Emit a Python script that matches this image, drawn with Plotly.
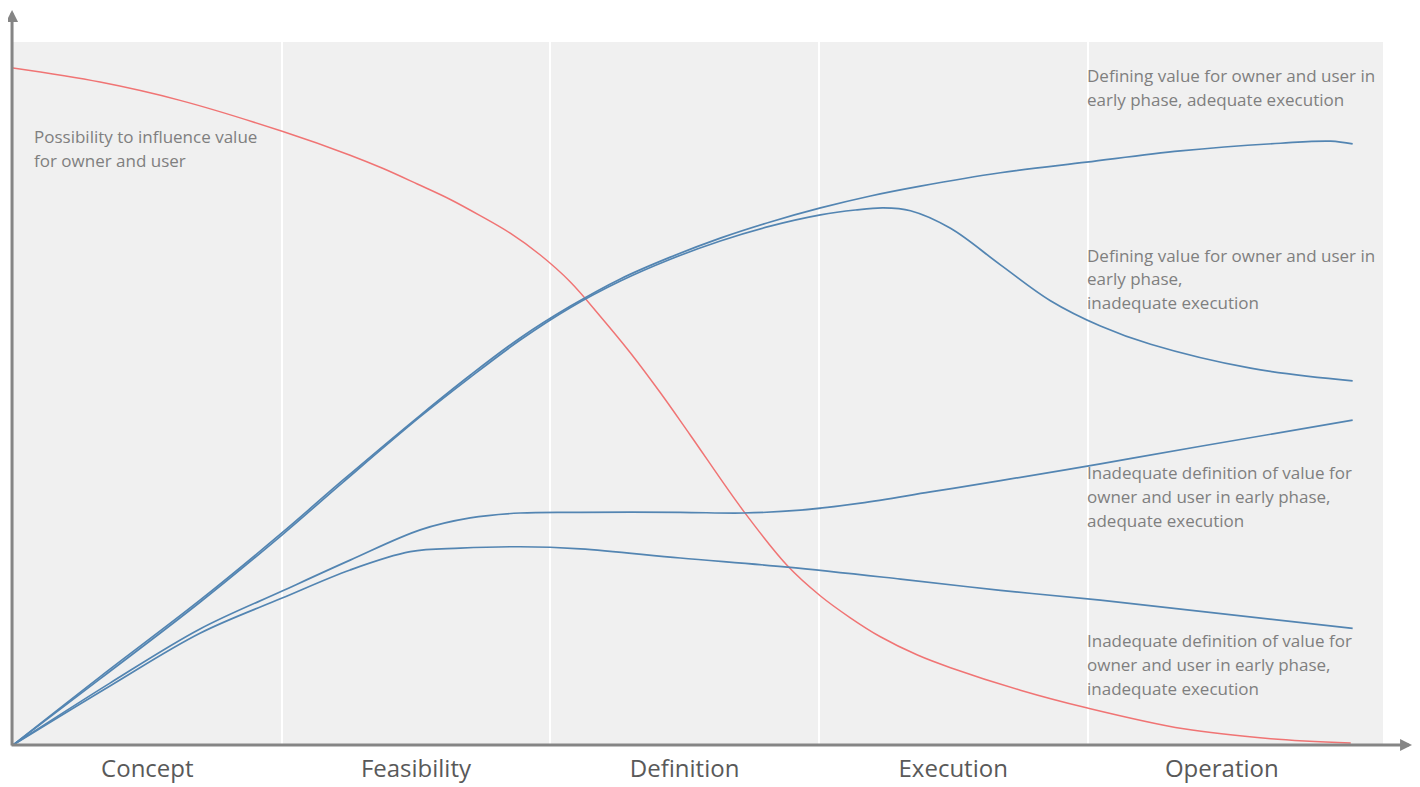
import plotly.graph_objects as go

# Phase categories (x axis: each phase spans one unit)
phases = ["Concept", "Feasibility", "Definition", "Execution", "Operation"]
phase_centers = [0.5, 1.5, 2.5, 3.5, 4.5]
phase_bounds = [1, 2, 3, 4]

# Possibility to influence value (red)
infl_x = [0, 0.324, 0.622, 1.002, 1.255, 1.378, 1.505, 1.628, 1.739, 1.851, 1.963, 2.074, 2.186,
          2.298, 2.410, 2.521, 2.719, 2.883, 3.006, 3.117, 3.229, 3.367, 3.490, 3.750,
          3.996, 4.358, 4.682, 4.98]
infl_y = [96.3, 94.3, 91.7, 87.3, 83.9, 82.0, 79.8, 77.6, 75.3, 72.8, 69.7, 65.9, 61.0,
          55.8, 50.1, 44.1, 33.3, 25.5, 21.2, 18.1, 15.4, 12.8, 11.0, 7.8,
          5.3, 2.3, 0.9, 0.3]

# Defining value early, adequate execution
a_x = [0, 0.324, 0.696, 1.002, 1.229, 1.516, 1.702, 1.888, 2.074, 2.261, 2.447, 2.633,
       2.819, 3.006, 3.192, 3.378, 3.676, 3.996, 4.346, 4.719, 4.905, 4.987]
a_y = [0, 9.7, 20.6, 30.2, 37.7, 46.9, 52.6, 57.9, 62.4, 66.3, 69.4, 72.1,
       74.4, 76.4, 78.1, 79.5, 81.4, 82.9, 84.5, 85.6, 85.9, 85.5]

# Defining value early, inadequate execution
b_x = [0, 0.324, 0.696, 1.002, 1.229, 1.516, 1.702, 1.888, 2.074, 2.261, 2.447, 2.633,
       2.819, 3.006, 3.136, 3.240, 3.341, 3.490, 3.676, 3.862, 4.048, 4.235, 4.607, 4.987]
b_y = [0, 9.4, 20.3, 29.9, 37.4, 46.7, 52.3, 57.6, 62.2, 66.0, 69.1, 71.7,
       73.8, 75.4, 76.1, 76.4, 76.0, 73.5, 68.3, 63.2, 59.6, 57.0, 53.6, 51.8]

# Inadequate definition early, adequate execution
c_x = [0, 0.361, 0.696, 1.002, 1.255, 1.516, 1.702, 1.888, 2.112, 2.484, 2.719, 2.931,
       3.155, 3.415, 3.676, 4.048, 4.421, 4.987]
c_y = [0, 8.8, 16.5, 21.9, 26.3, 30.6, 32.3, 33.0, 33.1, 33.1, 33.0, 33.4,
       34.4, 36.0, 37.6, 40.0, 42.5, 46.2]

# Inadequate definition early, inadequate execution
d_x = [0, 0.361, 0.696, 1.002, 1.255, 1.479, 1.665, 1.888, 2.112, 2.484, 2.883,
       3.304, 3.676, 4.048, 4.987]
d_y = [0, 8.4, 15.9, 20.9, 24.9, 27.5, 28.0, 28.2, 27.9, 26.6, 25.3,
       23.6, 22.0, 20.6, 16.6]

# Label blocks: (x, y of first line, lines)
labels = [
    (0.07, 86.6, ["Possibility to influence value", "for owner and user"]),
    (3.99, 95.3, ["Defining value for owner and user in", "early phase, adequate execution"]),
    (3.99, 69.7, ["Defining value for owner and user in", "early phase,", "inadequate execution"]),
    (3.99, 38.7, ["Inadequate definition of value for", "owner and user in early phase,", "adequate execution"]),
    (3.99, 14.8, ["Inadequate definition of value for", "owner and user in early phase,", "inadequate execution"]),
]
line_step = 3.41

RED = "#f07474"
BLUE = "#5385b2"
AXIS_GRAY = "#858585"

fig = go.Figure()
fig.add_trace(go.Scatter(x=infl_x, y=infl_y, mode="lines",
                         line=dict(color=RED, width=1.5, shape="spline", smoothing=1)))
for xs, ys in [(a_x, a_y), (b_x, b_y), (c_x, c_y), (d_x, d_y)]:
    fig.add_trace(go.Scatter(x=xs, y=ys, mode="lines",
                             line=dict(color=BLUE, width=1.7, shape="spline", smoothing=1)))

annotations = []
for lx, ly, lines in labels:
    for i, t in enumerate(lines):
        annotations.append(dict(x=lx, y=ly - i * line_step, xref="x", yref="y", text=t,
                                showarrow=False, xanchor="left", yanchor="middle",
                                font=dict(family="Open Sans", size=17, color="#7f7f7f")))

# axis arrows (paper coordinates, tails given as pixel offsets)
annotations.append(dict(x=1.0212, y=0, xref="paper", yref="paper", ax=-1402, ay=0,
                        text="", showarrow=True, arrowhead=2, arrowsize=0.8, arrowwidth=3,
                        arrowcolor=AXIS_GRAY))
annotations.append(dict(x=-0.0007, y=1.0455, xref="paper", yref="paper", ax=0, ay=737,
                        text="", showarrow=True, arrowhead=2, arrowsize=0.8, arrowwidth=3,
                        arrowcolor=AXIS_GRAY))

fig.update_layout(
    width=1412, height=779,
    margin=dict(l=5, r=37, t=34, b=42, autoexpand=False),
    paper_bgcolor="white", plot_bgcolor="#f0f0f0",
    showlegend=False,
    annotations=annotations,
    hovermode=False,
)
fig.update_xaxes(range=[0, 5.1], tickvals=phase_centers, ticktext=phases, automargin=False,
                 showgrid=False, zeroline=False, showline=False, ticks="",
                 tickfont=dict(family="Open Sans", size=24, color="#595959"),
                 ticklabelstandoff=7,
                 minor=dict(tickvals=phase_bounds, showgrid=True, gridcolor="white", gridwidth=2, ticks=""))
fig.update_yaxes(range=[0, 100], automargin=False, showticklabels=False, showgrid=False,
                 zeroline=False, showline=False)

fig.write_html("out.html")
